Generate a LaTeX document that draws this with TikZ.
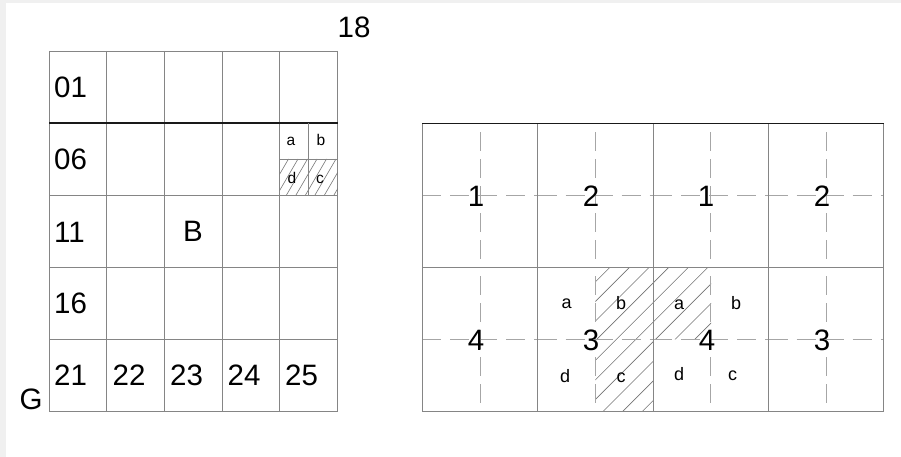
\documentclass[tikz,border=0pt]{standalone}
\usepackage{fontspec}
\setmainfont{Liberation Sans}
\begin{document}
\begin{tikzpicture}[x=1pt,y=-1pt,
  gridline/.style={draw=black!48,line width=0.9pt},
  darkline/.style={draw=black!90,line width=1.1pt},
  dashline/.style={draw=black!35,line width=1pt,dash pattern=on 19pt off 9pt},
  vdashline/.style={draw=black!35,line width=1pt,dash pattern=on 19pt off 8pt,dash phase=18pt},
  hatchline/.style={draw=black!55,line width=0.6pt},
  big/.style={inner sep=0pt,anchor=base,font=\fontsize{29.5}{29.5}\selectfont},
  bigw/.style={big,anchor=base west},
  smallR/.style={inner sep=0pt,anchor=base,font=\fontsize{18}{18}\selectfont},
  smallL/.style={inner sep=0pt,anchor=base,font=\fontsize{15.5}{15.5}\selectfont}]
\useasboundingbox (0,0) rectangle (901,457);
% light frame of the screenshot
\fill[black!6] (0,0) rectangle (901,3.5);
\fill[black!6] (0,0) rectangle (6,457);

% ---------------- left grid ----------------
\foreach \i in {0,...,5} {
  \draw[gridline] ({49+57.7*\i},51) -- ({49+57.7*\i},411);
}
\foreach \j in {0,2,3,4,5} {
  \draw[gridline] (49,{51+72*\j}) -- (337.5,{51+72*\j});
}
\draw[darkline] (49,123) -- (337.5,123);
% subdivided cell
\begin{scope}
  \clip (279.8,159) rectangle (337.5,195);
  \foreach \k in {0,...,10} {
    \draw[hatchline] ({258+9.5*\k},195) -- ++(21,-36);
  }
\end{scope}
\draw[gridline,line width=0.7pt] (308.6,123) -- (308.6,195);
\draw[gridline,line width=0.7pt] (279.8,159) -- (337.5,159);

\node[smallL] (la) at (291,146) {a};
\node[smallL] (lb) at (321,146) {b};
\node[smallL] (ld) at (292,183) {d};
\node[smallL] (lc) at (320,183) {c};

\node[bigw] (n01) at (54,98) {01};
\node[bigw] (n06) at (54,170) {06};
\node[bigw] (n11) at (54,242) {11};
\node[bigw] (n16) at (54,313.5) {16};
\node[bigw] (n21) at (54,385.5) {21};
\node[bigw] (n22) at (112.5,385.5) {22};
\node[bigw] (n23) at (170,385.5) {23};
\node[bigw] (n24) at (227.5,385.5) {24};
\node[bigw] (n25) at (285,385.5) {25};
\node[big] (nB) at (193,241.5) {B};
\node[big] (nG) at (31,409.5) {G};
\node[big] (n18) at (354,37.5) {18};

% ---------------- right grid ----------------
% hatching
\begin{scope}
  \clip (595.4,267.3) rectangle (653,411.3) (653,267.3) rectangle (711,339.3);
  \foreach \k in {-1,...,13} {
    \draw[hatchline] ({610+19.6*\k-144},411.3) -- ({610+19.6*\k},267.3);
  }
\end{scope}
% dashed centre lines per cell
\foreach \i in {0,...,3} {
  \foreach \j in {0,1} {
    \draw[dashline] ({422.3+115.4*\i},{195.3+144*\j}) -- ({422.3+115.4*(\i+1)},{195.3+144*\j});
    \draw[vdashline] ({480+115.4*\i},{123.3+144*\j}) -- ({480+115.4*\i},{267.3+144*\j});
  }
}
% solid grid
\foreach \i in {0,...,4} {
  \draw[gridline] ({422.3+115.4*\i},123.3) -- ({422.3+115.4*\i},411.3);
}
\draw[gridline] (422.3,267.3) -- (884,267.3);
\draw[gridline] (422.3,411.3) -- (884,411.3);
\draw[darkline] (422.3,123.3) -- (884,123.3);

\node[big] (r1a) at (476,206) {1};
\node[big] (r2a) at (591,206) {2};
\node[big] (r1b) at (706,206) {1};
\node[big] (r2b) at (822,206) {2};
\node[big] (r4a) at (476,350) {4};
\node[big] (r3a) at (591,350) {3};
\node[big] (r4b) at (707,350) {4};
\node[big] (r3b) at (822,350) {3};

\node[smallR] (ra1) at (566.7,308.5) {a};
\node[smallR] (rb1) at (621,309.5) {b};
\node[smallR] (ra2) at (679,309) {a};
\node[smallR] (rb2) at (736,309) {b};
\node[smallR] (rd1) at (565,382) {d};
\node[smallR] (rc1) at (621,382.5) {c};
\node[smallR] (rd2) at (679,380) {d};
\node[smallR] (rc2) at (732.5,380) {c};
\end{tikzpicture}
\end{document}
